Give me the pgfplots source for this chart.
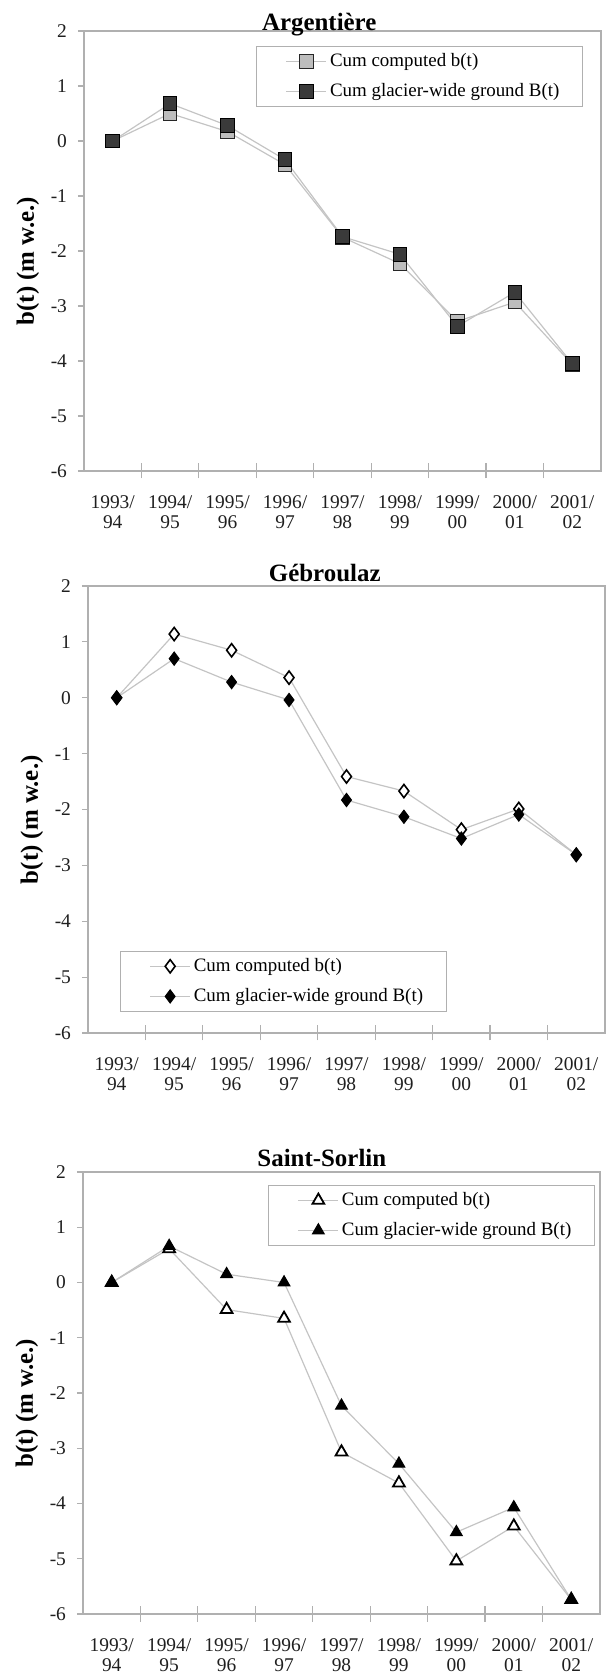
\documentclass[border=0pt]{standalone}
\usepackage{fontspec}
\setmainfont{Liberation Serif}
\usepackage{pgfplots}
\pgfplotsset{compat=1.18}
\definecolor{lineg}{HTML}{C4C4C4}
\definecolor{axg}{HTML}{B0B0B0}
\definecolor{sqlight}{HTML}{BDBDBD}
\definecolor{sqdark}{HTML}{3A3A3A}
\pgfplotsset{
 glac/.style={
  scale only axis, width=258.5bp,
  xmin=-0.5, xmax=8.5, ymin=-6, ymax=2,
  ytick={-6,-5,...,2},
  xtick={0,...,8},
  xticklabels={1993/\\94,1994/\\95,1995/\\96,1996/\\97,1997/\\98,1998/\\99,1999/\\00,2000/\\01,2001/\\02},
  minor x tick num=1,
  major x tick style={draw=none},
  minor x tick style={yshift=3.75bp},
  minor tick length=7.5bp,
  major tick length=3bp,
  tick align=outside,
  xtick pos=bottom, ytick pos=left,
  axis line style={draw=axg, line width=0.6bp},
  every tick/.append style={draw=axg, line width=0.6bp},
  tick label style={font=\fontsize{9.75}{10}\selectfont, text=black!88},
  xticklabel style={align=center, yshift=-6bp},
  yticklabel style={xshift=-2bp},
  /pgf/number format/assume math mode=true,
  title style={font=\bfseries\fontsize{12.5}{14}\selectfont, anchor=base},
  every axis y label/.style={at={(axis description cs:0,0.477)}, xshift=-28bp, anchor=center, rotate=90, font=\bfseries\fontsize{12.5}{14}\selectfont},
  ylabel={b(t) (m w.e.)},
  legend cell align=left,
  legend style={draw=axg, line width=0.5bp, fill=white, font=\fontsize{9.5}{11}\selectfont, inner xsep=10bp, inner ysep=2.5bp, row sep=5bp, nodes={inner xsep=1.5bp, inner ysep=1bp}},
  legend image code/.code={\path (-4.5bp,0bp) (20bp,0bp); \draw[mark repeat=2,mark phase=2,##1] plot coordinates {(0bp,0bp)(10bp,0bp)(20bp,0bp)};},
 },
 ln/.style={color=lineg, line width=0.6bp},
}
\begin{document}
\begin{tikzpicture}
\useasboundingbox (0,0) rectangle (303.5bp,838bp);
% Argentiere
\begin{axis}[glac, at={(42bp,602.5bp)}, anchor=south west, height=220bp,
  title={Argentière}, title style={at={(0.455,1)}, yshift=-5.5bp},
  legend style={at={(0.965,0.966)}, anchor=north east}]
\addplot[ln, mark=square*, mark size=3.4bp, mark options={fill=sqlight, draw=black!85, line width=0.5bp}]
 coordinates {(0,0) (1,0.50) (2,0.17) (3,-0.43) (4,-1.75) (5,-2.23) (6,-3.28) (7,-2.93) (8,-4.06)};
\addlegendentry{Cum computed b(t)}
\addplot[ln, mark=square*, mark size=3.4bp, mark options={fill=sqdark, draw=black, line width=0.5bp}]
 coordinates {(0,0) (1,0.68) (2,0.28) (3,-0.34) (4,-1.74) (5,-2.06) (6,-3.37) (7,-2.75) (8,-4.05)};
\addlegendentry{Cum glacier-wide ground B(t)}
\end{axis}
% Gebroulaz
\begin{axis}[glac, at={(44bp,321.5bp)}, anchor=south west, height=223.5bp,
  title={Gébroulaz}, title style={at={(0.458,1)}, yshift=-3.5bp},
  legend style={at={(0.062,0.047)}, anchor=south west}]
\addplot[ln, mark=diamond*, mark size=3.3bp, mark options={fill=white, draw=black, line width=0.8bp}]
 coordinates {(0,0) (1,1.14) (2,0.85) (3,0.36) (4,-1.41) (5,-1.67) (6,-2.36) (7,-1.99) (8,-2.81)};
\addlegendentry{Cum computed b(t)}
\addplot[ln, mark=diamond*, mark size=3.3bp, mark options={fill=black, draw=black, line width=0.5bp}]
 coordinates {(0,0) (1,0.70) (2,0.28) (3,-0.04) (4,-1.83) (5,-2.13) (6,-2.52) (7,-2.09) (8,-2.81)};
\addlegendentry{Cum glacier-wide ground B(t)}
\end{axis}
% Saint-Sorlin
\begin{axis}[glac, at={(41.5bp,31bp)}, anchor=south west, height=221bp,
  title={Saint-Sorlin}, title style={at={(0.462,1)}, yshift=-3bp},
  legend style={at={(0.99,0.971)}, anchor=north east}]
\addplot[ln, mark=triangle*, mark size=3.4bp, mark options={fill=white, draw=black, line width=0.9bp}]
 coordinates {(0,0) (1,0.61) (2,-0.49) (3,-0.65) (4,-3.07) (5,-3.63) (6,-5.04) (7,-4.41) (8,-5.74)};
\addlegendentry{Cum computed b(t)}
\addplot[ln, mark=triangle*, mark size=3.4bp, mark options={fill=black, draw=black, line width=0.5bp}]
 coordinates {(0,0) (1,0.66) (2,0.15) (3,0.0) (4,-2.23) (5,-3.28) (6,-4.52) (7,-4.07) (8,-5.74)};
\addlegendentry{Cum glacier-wide ground B(t)}
\end{axis}
\end{tikzpicture}
\end{document}
